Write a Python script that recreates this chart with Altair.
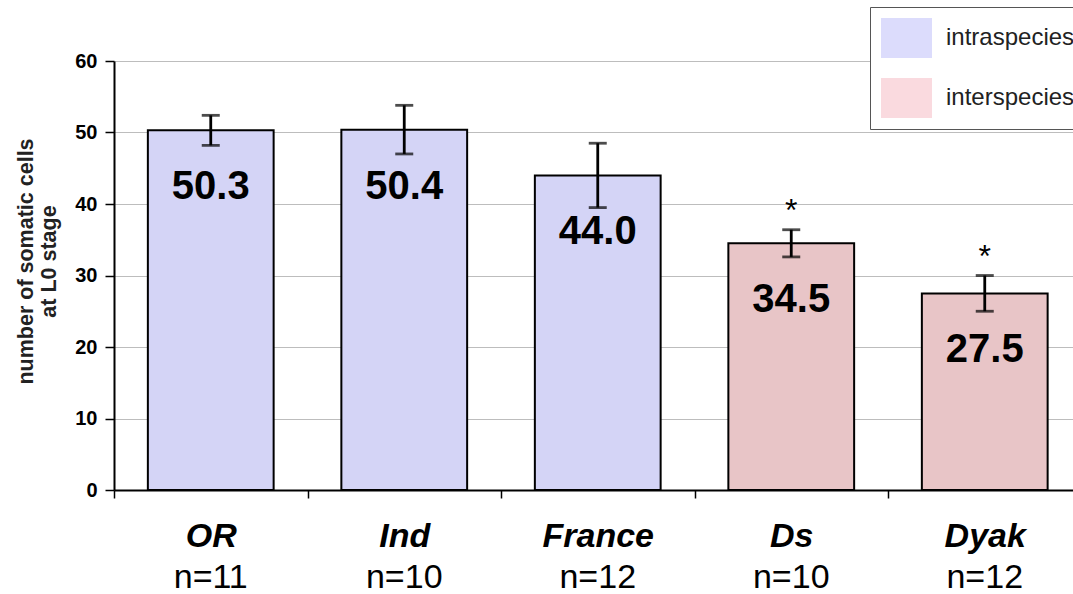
import altair as alt
import pandas as pd

# Somatic cell counts at the L0 stage, per strain / cross
strains = ["OR", "Ind", "France", "Ds", "Dyak"]
sample_sizes = ["n=11", "n=10", "n=12", "n=10", "n=12"]
mean_cells = [50.3, 50.4, 44.0, 34.5, 27.5]
error = [2.1, 3.4, 4.5, 1.9, 2.5]
cross_type = ["intraspecies", "intraspecies", "intraspecies", "interspecies", "interspecies"]
significance = ["", "", "", "*", "*"]

groups = ["intraspecies", "interspecies"]

df = pd.DataFrame({
    "strain": strains,
    "n": sample_sizes,
    "cells": mean_cells,
    "err": error,
    "group": cross_type,
    "star": significance,
})
df["low"] = df["cells"] - df["err"]
df["high"] = df["cells"] + df["err"]

FONT = "Liberation Sans"
W, H = 959, 429
STEP = 193.5

x_enc = alt.X(
    "strain:N",
    scale=alt.Scale(domain=strains, range=[0, 5 * STEP], paddingInner=0, paddingOuter=0),
    axis=alt.Axis(
        title=None,
        labelFont=FONT,
        labelFontSize=34,
        labelFontWeight="bold",
        labelFontStyle="italic",
        labelColor="black",
        labelAngle=0,
        labelBaseline="middle",
        labelPadding=38,
        tickBand="extent",
        tickSize=8,
        tickColor="black",
        tickWidth=1.5,
        domainColor="black",
        domainWidth=2,
        grid=False,
        zindex=1,
    ),
)

y_scale = alt.Scale(domain=[0, 60], nice=False)
y_axis = alt.Axis(
    values=[0, 10, 20, 30, 40, 50, 60],
    title=["number of somatic cells", "at L0 stage"],
    titleFont=FONT,
    titleFontSize=21.5,
    titleFontWeight="bold",
    titleColor="#222222",
    titlePadding=14,
    titleLineHeight=23,
    titleY=200,
    labelFont=FONT,
    labelFontSize=20,
    labelFontWeight="bold",
    labelColor="black",
    labelPadding=8,
    tickSize=9,
    tickColor="black",
    tickWidth=1.5,
    domainColor="black",
    domainWidth=2,
    grid=True,
    gridColor="#bdbdbd",
    gridWidth=1,
)

base = alt.Chart(df)

bars = base.mark_bar(
    stroke="black", strokeWidth=2, width=alt.RelativeBandSize(0.65)
).encode(
    x=x_enc,
    y=alt.Y("cells:Q", scale=y_scale, axis=y_axis),
    fill=alt.Fill(
        "group:N",
        scale=alt.Scale(domain=groups, range=["#d4d4f6", "#e8c5c7"]),
        legend=None,
    ),
)

# zero-height rects that only carry the legend swatches
legend_layer = base.mark_rect(strokeWidth=0).encode(
    x=x_enc,
    y=alt.datum(0),
    y2=alt.datum(0),
    fill=alt.Fill(
        "group:N",
        scale=alt.Scale(domain=groups, range=["#dcdcfc", "#fadadf"]),
        legend=alt.Legend(
            title=None,
            orient="none",
            legendX=756,
            legendY=-54,
            padding=11,
            strokeColor="#555555",
            fillColor="white",
            cornerRadius=0,
            symbolType="M-1,-1L1.55,-1L1.55,1L-1,1Z",
            symbolSize=1600,
            symbolStrokeWidth=0,
            symbolOpacity=1,
            labelOffset=25,
            labelFont=FONT,
            labelFontSize=24,
            labelColor="#222222",
            labelLimit=0,
            rowPadding=20,
        ),
    ),
)

err_rules = base.mark_rule(color="black", strokeWidth=2.8).encode(
    x=x_enc, y="low:Q", y2="high:Q"
)
cap_low = base.mark_tick(color="black", size=18, thickness=2.8).encode(x=x_enc, y="low:Q")
cap_high = base.mark_tick(color="black", size=18, thickness=2.8).encode(x=x_enc, y="high:Q")

values = base.mark_text(
    font=FONT, fontSize=40, fontWeight="bold", color="black", baseline="middle", dy=57
).encode(x=x_enc, y="cells:Q", text=alt.Text("cells:Q", format=".1f"))

stars = base.mark_text(
    font=FONT, fontSize=32, color="black", baseline="alphabetic", dy=-9
).encode(x=x_enc, y="high:Q", text="star:N")

n_labels = base.mark_text(
    font=FONT, fontSize=34, color="black", baseline="middle"
).encode(x=x_enc, y=alt.value(H + 88), text="n:N")

chart = (
    alt.layer(bars, legend_layer, err_rules, cap_low, cap_high, values, stars, n_labels)
    .resolve_scale(fill="independent")
    .properties(
        width=W,
        height=H,
        autosize=alt.AutoSizeParams(type="none"),
        padding={"left": 114, "top": 61, "right": 0, "bottom": 104},
        background="white",
    )
    .configure_view(stroke=None)
)

chart.save("out.html", embed_options={"renderer": "svg", "actions": False})
